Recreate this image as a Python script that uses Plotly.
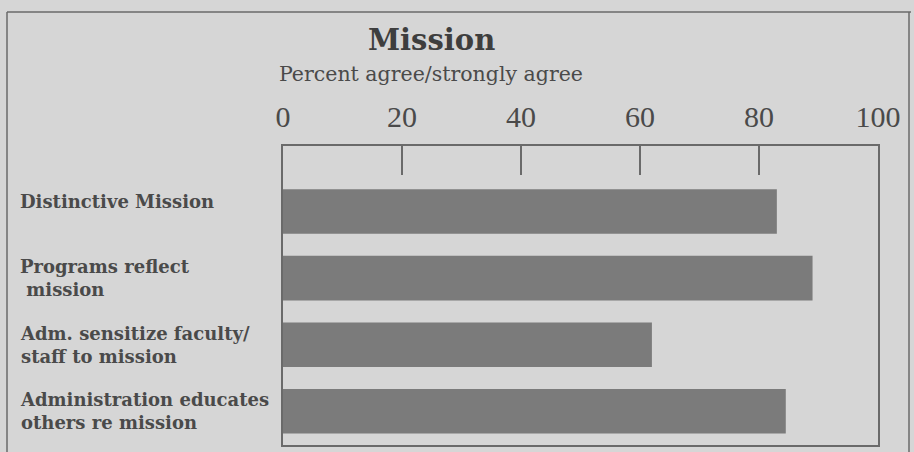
import plotly.graph_objects as go

categories = ["Distinctive Mission", "Programs reflect mission",
              "Adm. sensitize faculty/staff to mission",
              "Administration educates others re mission"]
label_text = ["Distinctive Mission", "Programs reflect<br> mission",
              "Adm. sensitize faculty/<br>staff to mission",
              "Administration educates<br>others re mission"]
values = [83, 89, 62, 84.5]
tick_vals = [0, 20, 40, 60, 80, 100]
tick_text = ["0", "20", "40", "60", "80", "100"]

BG = "#d6d6d6"
BAR = "#7b7b7b"
TXT = "#4a4a4a"
LINE = "#6a6a6a"
SERIF = "Liberation Serif"
WIDE = "DejaVu Serif"

fig = go.Figure()
fig.add_trace(go.Bar(
    x=values, y=categories, orientation="h", width=0.67,
    marker=dict(color=BAR, line=dict(width=0)), hoverinfo="x+y",
))

W, H = 914, 452
L, R, T, B = 283, 36, 146, 5
pw, ph = W - L - R, H - T - B

def px(x):
    return (x - L) / pw

def py(y):
    return (H - B - y) / ph

annotations = [
    dict(text="<b>Mission</b>", x=px(431), y=py(39), xref="paper", yref="paper",
         xanchor="center", yanchor="middle", showarrow=False,
         font=dict(family=WIDE, size=29, color="#3e3e3e")),
    dict(text="Percent agree/strongly agree", x=px(277), y=py(74), xref="paper", yref="paper",
         xanchor="left", yanchor="middle", showarrow=False,
         font=dict(family=WIDE, size=20.5, color=TXT)),
]
shifts = [10, 0, 0, 0]
for cat, lab, s in zip(categories, label_text, shifts):
    annotations.append(dict(
        text="<b>" + lab + "</b>", x=px(18), y=cat, xref="paper", yref="y",
        xanchor="left", yanchor="middle", align="left", showarrow=False, yshift=s,
        font=dict(family=WIDE, size=18, color=TXT)))

fig.update_layout(
    width=W, height=H, margin=dict(l=L, r=R, t=T, b=B, pad=0),
    paper_bgcolor=BG, plot_bgcolor=BG, showlegend=False,
    bargap=0.33,
    xaxis=dict(range=[0, 100], side="top", tickvals=tick_vals, ticktext=tick_text,
               ticks="inside", ticklen=29, tickwidth=2, tickcolor=LINE,
               ticklabelstandoff=5,
               showgrid=False, zeroline=False, showline=True, mirror=True,
               linecolor=LINE, linewidth=1.5,
               tickfont=dict(family=SERIF, size=30, color=TXT)),
    yaxis=dict(type="category", categoryorder="array", categoryarray=categories,
               range=[3.507, -0.985], showticklabels=False, ticks="",
               showgrid=False, zeroline=False, showline=True, mirror=True,
               linecolor=LINE, linewidth=1.5),
    annotations=annotations,
    shapes=[
        dict(type="line", xref="paper", yref="paper", x0=px(7), x1=px(911), y0=py(11), y1=py(11),
             line=dict(color=LINE, width=1.5)),
        dict(type="line", xref="paper", yref="paper", x0=px(7), x1=px(7), y0=py(11), y1=py(460),
             line=dict(color=LINE, width=1.5)),
        dict(type="line", xref="paper", yref="paper", x0=px(909), x1=px(909), y0=py(11), y1=py(460),
             line=dict(color=LINE, width=1.5)),
    ],
)

fig.write_html("out.html", config={"displayModeBar": False},
               post_script="document.body.style.margin='0';document.body.style.overflow='hidden';")
